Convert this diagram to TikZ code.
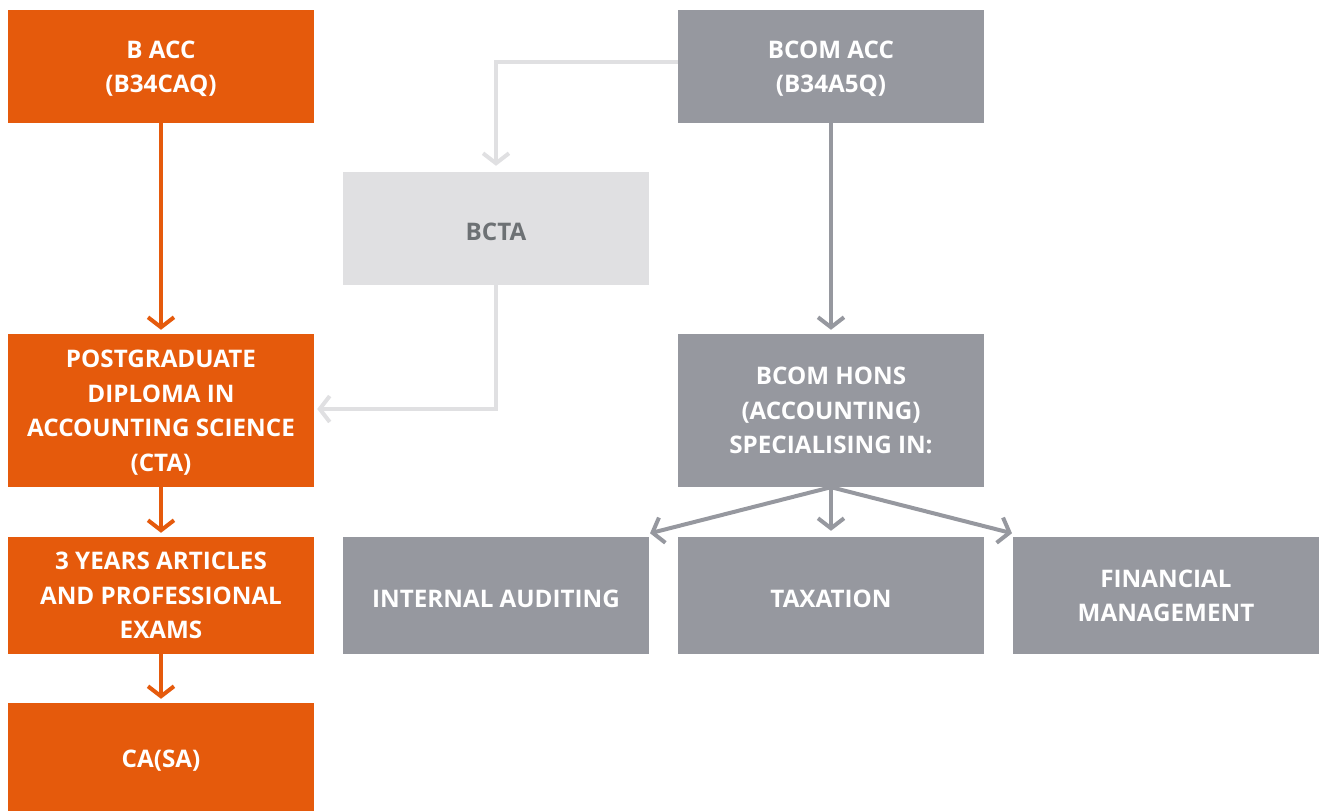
\documentclass[tikz,border=0pt]{standalone}
\usepackage{fontspec}
\setmainfont{Open Sans}
\usetikzlibrary{arrows.meta,calc}
\definecolor{orng}{HTML}{E55A0C}
\definecolor{gry}{HTML}{96989F}
\definecolor{lgry}{HTML}{E0E0E2}
\definecolor{dgry}{HTML}{6D7174}
\begin{document}
\begin{tikzpicture}[x=1pt,y=-1pt,
  box/.style={draw=none,minimum width=306pt,inner sep=0pt,align=center,
    font=\fontsize{24.2}{34.5}\selectfont\bfseries,text=white},
  one/.style={execute at begin node={\rule{0pt}{24pt}}},
  multi/.style={text depth=-3pt},
  obox/.style={box,fill=orng},
  gbox/.style={box,fill=gry},
  lbox/.style={box,fill=lgry,text=dgry},
  arr/.style={line width=4pt,-{Straight Barb[length=10pt,width=26pt,line width=4pt]}},
  oarr/.style={arr,draw=orng},
  garr/.style={arr,draw=gry},
  larr/.style={arr,draw=lgry}]
\useasboundingbox (0,0) rectangle (1319,811);
% left column
\node[obox,multi,minimum height=113pt] (bacc) at (161,66.5) {B ACC\\(B34CAQ)};
\node[obox,multi,minimum height=153pt] (pg) at (161,410.5) {POSTGRADUATE\\DIPLOMA IN\\ACCOUNTING SCIENCE\\(CTA)};
\node[obox,multi,minimum height=117pt] (art) at (161,595.5) {3 YEARS ARTICLES\\AND PROFESSIONAL\\EXAMS};
\node[obox,one,minimum height=108pt] (ca) at (161,757) {CA(SA)};
% right part
\node[gbox,multi,minimum height=113pt] (bcom) at (831,66.5) {BCOM ACC\\(B34A5Q)};
\node[lbox,one,minimum height=113pt] (bcta) at (496,228.5) {BCTA};
\node[gbox,multi,minimum height=153pt] (hons) at (831,410.5) {BCOM HONS\\(ACCOUNTING)\\SPECIALISING IN:};
\node[gbox,one,minimum height=117pt] (ia) at (496,595.5) {INTERNAL AUDITING};
\node[gbox,one,minimum height=117pt] (tax) at (831,595.5) {TAXATION};
\node[gbox,multi,minimum height=117pt] (fm) at (1166,595.5) {FINANCIAL\\MANAGEMENT};
% connectors
\draw[oarr,shorten >=-1pt] (bacc.south) -- ($(pg.north)+(0,-5)$);
\draw[oarr,shorten >=-1pt] (pg.south) -- ($(art.north)+(0,-5)$);
\draw[oarr,shorten >=-1pt] (art.south) -- ($(ca.north)+(0,-5)$);
\draw[garr,shorten >=-1pt] (bcom.south) -- ($(hons.north)+(0,-5)$);
\coordinate (bctatop) at ($(bcta.north)+(0,-7)$);
\draw[larr,shorten >=-1pt] (bcom.west |- 0,62) -| (bctatop);
\coordinate (pgright) at ($(pg.east)+(4,-1.5)$);
\draw[larr,shorten >=-1pt] (bcta.south) |- (pgright);
\coordinate (tl) at (651,533);
\coordinate (tr) at (1011,533);
\draw[garr,shorten >=-1pt] (hons.south) -- ($(tax.north)+(0,-7)$);
\draw[garr,shorten >=-1pt] (hons.south) -- (tl);
\draw[garr,shorten >=-1pt] (hons.south) -- (tr);
\end{tikzpicture}
\end{document}
